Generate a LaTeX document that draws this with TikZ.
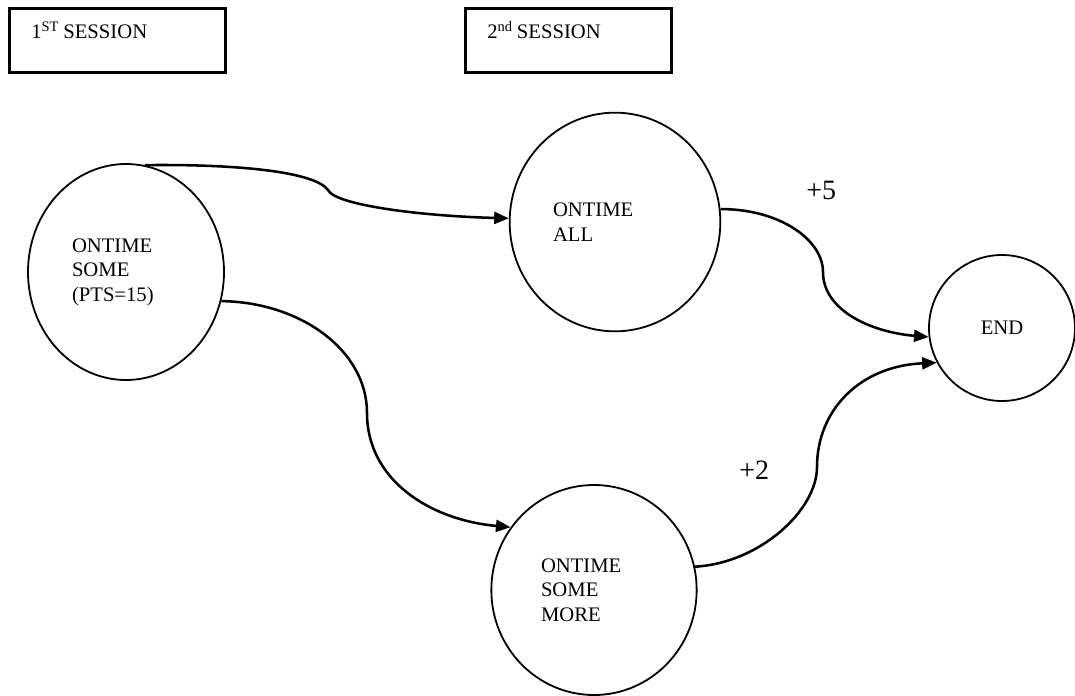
\documentclass[tikz,border=0pt]{standalone}
\usepackage{fontspec}
\setmainfont{Liberation Serif}
\usetikzlibrary{arrows.meta,shapes.geometric}
\tikzset{
  >=Triangle,
  session/.style={draw,line width=1.9pt,rectangle,anchor=north west,align=left,
    inner xsep=16.5pt,inner ysep=0pt,text height=22.5pt,text depth=25.5pt,
    font=\fontsize{15.5}{18.4}\selectfont},
  state/.style={draw,line width=1.35pt,ellipse,inner sep=0pt,align=left,
    font=\fontsize{15.5}{18.4}\selectfont},
  gain/.style={anchor=base west,inner sep=0pt,font=\fontsize{21}{24}\selectfont},
  flow/.style={-{Triangle[length=11pt,width=9pt]},line width=1.9pt}
}
\begin{document}
\begin{tikzpicture}[x=0.75pt,y=-0.75pt]
  \useasboundingbox (0,0) rectangle (1075,696);
  % session headers
  \node[session,text width=129pt] (s1) at (8,7) {1\textsuperscript{ST}\hspace{-2pt} SESSION};
  \node[session,text width=121.5pt] (s2) at (464,7) {2\textsuperscript{nd}\hspace{-2pt} SESSION};
  % states
  \node[state,minimum width=147pt,minimum height=162pt,text width=81pt] (ots) at (126,272) {ONTIME\\SOME\\(PTS=15)};
  \node[state,minimum width=158pt,minimum height=164pt,text width=93pt] (ota) at (615,222) {ONTIME\\ALL};
  \node[state,minimum width=154pt,minimum height=157.5pt,text width=79.5pt] (otm) at (594,590) {ONTIME\\SOME\\MORE};
  \node[state,minimum width=109.5pt,minimum height=109.5pt] (fin) at (1002,328) {END};
  % transitions
  \draw[flow] (ots.80) .. controls (240,164) and (315,172) .. (328,190)
    .. controls (335,205) and (420,216) .. (ota.178);
  \draw[flow] (ots.-17) .. controls (300,302) and (367,350) .. (367,413)
    .. controls (367,480) and (430,520) .. (otm.143);
  \draw[flow] (ota.7) .. controls (780,209) and (823,240) .. (823,272)
    .. controls (823,310) and (870,332) .. (fin.187);
  \draw[flow] (otm.13) .. controls (760,563) and (817,510) .. (817,467)
    .. controls (817,410) and (860,366) .. (fin.208);
  % points
  \node[gain] (p5) at (806,199) {+5};
  \node[gain] (p2) at (739,479) {+2};
\end{tikzpicture}
\end{document}
